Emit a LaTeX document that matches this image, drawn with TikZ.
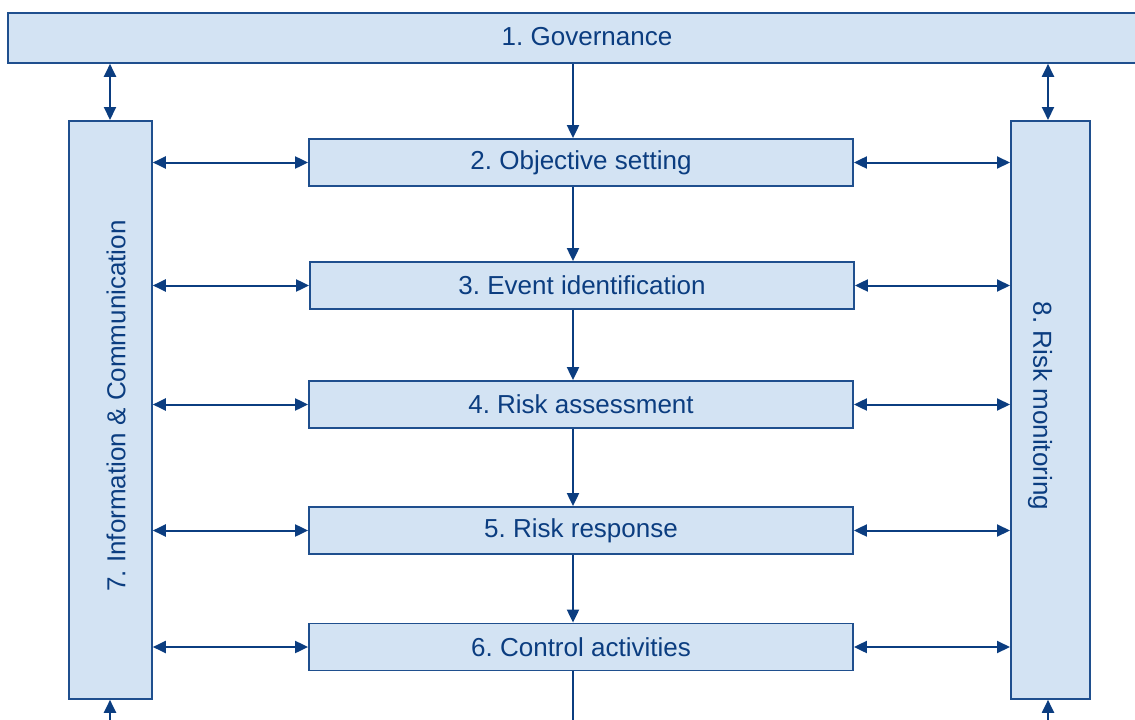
\documentclass[tikz,border=0pt]{standalone}
\usepackage{fontspec}
\setmainfont{Liberation Sans}
\usetikzlibrary{arrows.meta}
\definecolor{boxfill}{HTML}{D3E3F3}
\definecolor{boxline}{HTML}{1F4F8E}
\definecolor{ink}{HTML}{0B3D80}
\begin{document}
\frenchspacing
\begin{tikzpicture}[x=1pt,y=-1pt,
  label font/.style={text=ink,font=\fontsize{26}{30}\selectfont},
  stagebox/.style={draw=boxline,fill=boxfill,line width=1.8pt,inner sep=0pt,label font},
  link/.style={draw=ink,line width=2pt,{Triangle[length=13pt,width=12pt]}-{Triangle[length=13pt,width=12pt]}},
  flow/.style={draw=ink,line width=2pt,-{Triangle[length=13pt,width=12pt]}}]
\useasboundingbox (0,0) rectangle (1135,720);
% top band
\node[stagebox,minimum width=1140pt,minimum height=50pt,anchor=north west] (gov) at (7,12) {};
\node[label font] at (587,37) {1. Governance};
% side columns
\node[stagebox,minimum width=83pt,minimum height=578pt,anchor=north west] (info) at (68,120) {};
\node[label font,rotate=90] at (116,406) {7. Information \& Communication};
\node[stagebox,minimum width=79pt,minimum height=578pt,anchor=north west] (mon) at (1010,120) {};
\node[label font,rotate=-90] at (1040,406) {8. Risk monitoring};
% process steps
\node[stagebox,minimum width=544pt,minimum height=47pt] (s2) at (581,162.5) {2. Objective setting};
\node[stagebox,minimum width=544pt,minimum height=47pt] (s3) at (582,285.5) {3. Event identification};
\node[stagebox,minimum width=544pt,minimum height=47pt] (s4) at (581,404.5) {4. Risk assessment};
\node[stagebox,minimum width=544pt,minimum height=47pt] (s5) at (581,530.5) {5. Risk response};
\node[stagebox,minimum width=544pt,minimum height=47pt] (s6) at (581,647) {6. Control activities};
% free ends at the lower edge
\coordinate (infoB) at (110,722);
\coordinate (monB) at (1048,722);
\coordinate (midB) at (573,722);
% main chain
\draw[flow] (gov.south -| 573,0) -- (s2.north -| 573,0);
\draw[flow] (s2.south -| 573,0) -- (s3.north -| 573,0);
\draw[flow] (s3.south -| 573,0) -- (s4.north -| 573,0);
\draw[flow] (s4.south -| 573,0) -- (s5.north -| 573,0);
\draw[flow] (s5.south -| 573,0) -- (s6.north -| 573,0);
\draw[draw=ink,line width=2pt] (s6.south -| 573,0) -- (midB);
% governance to columns
\draw[link] (gov.south -| 110,0) -- (info.north -| 110,0);
\draw[link] (gov.south -| 1048,0) -- (mon.north -| 1048,0);
\draw[flow] (infoB) -- (info.south -| 110,0);
\draw[flow] (monB) -- (mon.south -| 1048,0);
% columns to steps
\foreach \s in {s2,s3,s4,s5,s6}{
  \draw[link] (info.east |- \s.west) -- (\s.west);
  \draw[link] (\s.east) -- (mon.west |- \s.east);
}
\end{tikzpicture}
\end{document}
